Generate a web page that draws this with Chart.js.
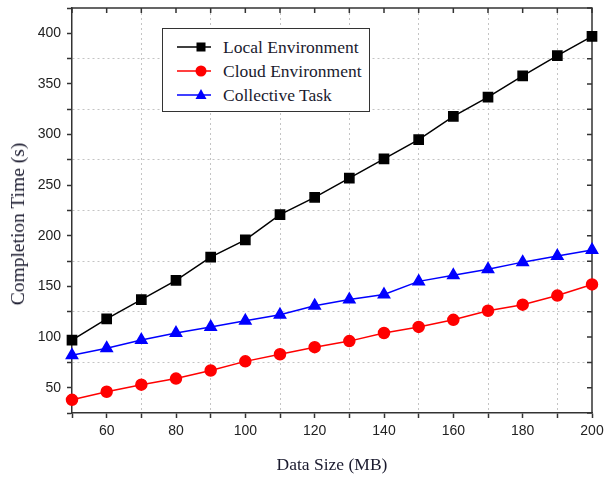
<!DOCTYPE html>
<html>
<head>
<meta charset="utf-8">
<script src="https://cdn.jsdelivr.net/npm/chart.js@4.4.1/dist/chart.umd.min.js"></script>
<style>
    html, body { margin: 0; padding: 0; background: #fff; }
    #wrap { position: relative; width: 604px; height: 477px; }
    #legend {
        position: absolute;
        left: 162px;
        top: 28px;
        width: 206px;
        height: 76px;
        border: 1.5px solid #333;
        background: #fff;
        padding-top: 6px;
        box-sizing: content-box;
        font-family: "Liberation Serif", "Times New Roman", serif;
        font-size: 17.5px;
        color: #1a1a2e;
    }
    #legend .row { display: flex; align-items: center; height: 24px; }
    #legend svg { margin-left: 14px; margin-right: 12px; }
    #yTitle {
        position: absolute;
        left: 18px;
        top: 224px;
        transform: translate(-50%, -50%) rotate(-90deg);
        white-space: nowrap;
        font-family: "Liberation Serif", "Times New Roman", serif;
        font-size: 19.5px;
        color: #1a1a2e;
    }
</style>
</head>
<body>
<div id="wrap">
    <canvas id="completionChart" width="604" height="477"></canvas>
    <div id="yTitle">Completion Time (s)</div>
    <div id="legend"></div>
</div>
<script>
// data
const dataSizes = [50, 60, 70, 80, 90, 100, 110, 120, 130, 140, 150, 160, 170, 180, 190, 200];
const localEnv = [97, 118, 137, 156, 179, 196, 221, 238, 257, 276, 295, 318, 337, 358, 378, 397];
const cloudEnv = [38, 46, 53, 59, 67, 76, 83, 90, 96, 104, 110, 117, 126, 132, 141, 152];
const collectiveTask = [82, 89, 97, 104, 110, 116, 122, 131, 137, 142, 155, 161, 167, 174, 180, 186];
const xTickLabels = [60, 80, 100, 120, 140, 160, 180, 200];
const yTickLabels = [50, 100, 150, 200, 250, 300, 350, 400];
const xGridLines = [70, 90, 110, 130, 150, 170, 190];
const yGridLines = [75, 125, 175, 225, 275, 325, 375];

function toPoints(values) {
    return dataSizes.map((x, i) => ({ x: x, y: values[i] }));
}

const axisColor = '#333';
const gridColor = '#c4c4c4';

// frame on top/right with inward ticks, like the original plot
const framePlugin = {
    id: 'frame',
    beforeDatasetsDraw(chart) {
        const ctx = chart.ctx;
        const area = chart.chartArea;
        const xs = chart.scales.x;
        const ys = chart.scales.y;
        ctx.save();
        ctx.strokeStyle = axisColor;
        ctx.lineWidth = 1.5;
        ctx.beginPath();
        ctx.moveTo(area.left, area.top);
        ctx.lineTo(area.right, area.top);
        ctx.lineTo(area.right, area.bottom);
        ctx.stroke();
        ctx.beginPath();
        xs.ticks.forEach(t => {
            const px = xs.getPixelForValue(t.value);
            ctx.moveTo(px, area.top);
            ctx.lineTo(px, area.top + 5);
        });
        ys.ticks.forEach(t => {
            const py = ys.getPixelForValue(t.value);
            ctx.moveTo(area.right, py);
            ctx.lineTo(area.right - 5, py);
        });
        ctx.stroke();
        ctx.restore();
    }
};

const chart = new Chart(document.getElementById('completionChart'), {
    type: 'line',
    data: {
        datasets: [{
            label: 'Local Environment',
            data: toPoints(localEnv),
            borderColor: '#000',
            backgroundColor: '#000',
            borderWidth: 1.5,
            pointStyle: 'rect',
            pointRadius: 6.5,
            pointHoverRadius: 6.5,
            clip: false
        }, {
            label: 'Cloud Environment',
            data: toPoints(cloudEnv),
            borderColor: '#ff0000',
            backgroundColor: '#ff0000',
            borderWidth: 1.5,
            pointStyle: 'circle',
            pointRadius: 5.5,
            pointHoverRadius: 5.5,
            clip: false
        }, {
            label: 'Collective Task',
            data: toPoints(collectiveTask),
            borderColor: '#0000ff',
            backgroundColor: '#0000ff',
            borderWidth: 1.5,
            pointStyle: 'triangle',
            pointRadius: 6.5,
            pointHoverRadius: 6.5,
            clip: false
        }]
    },
    options: {
        responsive: false,
        animation: false,
        devicePixelRatio: 1,
        layout: { padding: { top: 8, right: 12, left: 0, bottom: 0 } },
        plugins: {
            legend: { display: false },
            tooltip: { enabled: false }
        },
        scales: {
            x: {
                type: 'linear',
                min: 50,
                max: 200,
                ticks: {
                    stepSize: 10,
                    autoSkip: false,
                    maxRotation: 0,
                    padding: 5,
                    color: '#222',
                    font: { family: '"Liberation Sans", Arial, sans-serif', size: 14 },
                    callback: v => xTickLabels.includes(v) ? v : ''
                },
                grid: {
                    color: c => (c.tick && xGridLines.includes(c.tick.value)) ? gridColor : 'rgba(0,0,0,0)',
                    lineWidth: 1,
                    tickColor: axisColor,
                    tickLength: 5,
                    tickWidth: 1.5,
                    tickBorderDash: []
                },
                border: { color: axisColor, width: 1.5, dash: [2, 3] },
                title: {
                    display: true,
                    text: 'Data Size (MB)',
                    color: '#1a1a2e',
                    padding: { top: 1, bottom: 1 },
                    font: { family: '"Liberation Serif", "Times New Roman", serif', size: 17.5 }
                },
                afterFit: s => { s.height = 64; s.paddingRight = 0; }
            },
            y: {
                type: 'linear',
                min: 25,
                max: 425,
                ticks: {
                    stepSize: 25,
                    autoSkip: false,
                    padding: 6,
                    color: '#222',
                    font: { family: '"Liberation Sans", Arial, sans-serif', size: 14 },
                    callback: v => yTickLabels.includes(v) ? v : ''
                },
                grid: {
                    color: c => (c.tick && yGridLines.includes(c.tick.value)) ? gridColor : 'rgba(0,0,0,0)',
                    lineWidth: 1,
                    tickColor: axisColor,
                    tickLength: 5,
                    tickWidth: 1.5,
                    tickBorderDash: []
                },
                border: { color: axisColor, width: 1.5, dash: [2, 3] },
                title: { display: false },
                afterFit: s => { s.width = 72; s.paddingTop = 0; s.paddingBottom = 0; }
            }
        }
    },
    plugins: [framePlugin]
});

// html legend built from the datasets
function markerSvg(ds) {
    const c = ds.borderColor;
    let m = '';
    if (ds.pointStyle === 'rect') {
        m = '<rect x="19.5" y="3.5" width="9" height="9" fill="' + c + '"/>';
    } else if (ds.pointStyle === 'circle') {
        m = '<circle cx="24" cy="8" r="5.5" fill="' + c + '"/>';
    } else {
        m = '<polygon points="24,2 29.5,12 18.5,12" fill="' + c + '"/>';
    }
    return '<svg width="34" height="16"><line x1="0" y1="8" x2="34" y2="8" stroke="' + c +
        '" stroke-width="1.5"/>' + m + '</svg>';
}
const legendEl = document.getElementById('legend');
chart.data.datasets.forEach(ds => {
    const row = document.createElement('div');
    row.className = 'row';
    row.innerHTML = markerSvg(ds) + '<span>' + ds.label + '</span>';
    legendEl.appendChild(row);
});
</script>
</body>
</html>
